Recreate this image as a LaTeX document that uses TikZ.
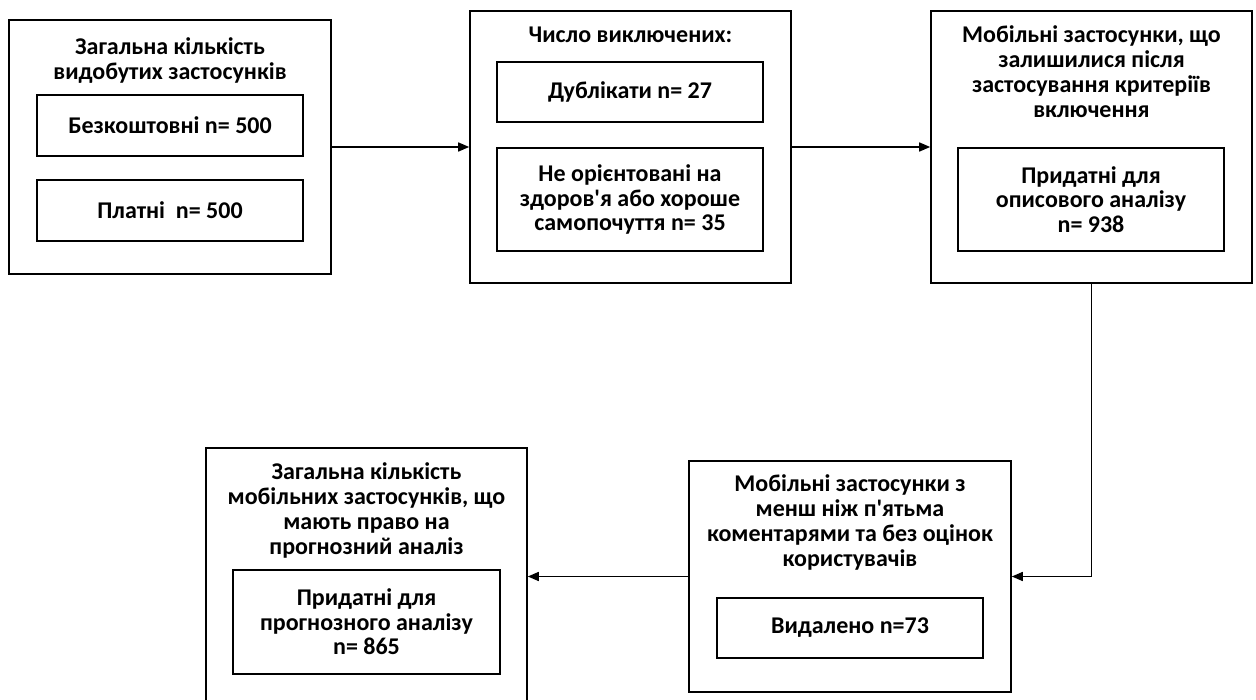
\documentclass[tikz,border=0pt]{standalone}
\usepackage{fontspec}
\setmainfont{Carlito}[Ligatures=TeXOff]
\usetikzlibrary{arrows.meta}
\tikzset{
  outerbox/.style={draw, line width=1.6pt, rectangle, inner sep=0pt},
  innerbox/.style={draw, line width=1.6pt, rectangle, inner sep=0pt, minimum width=266pt, align=center,
    font=\fontsize{24}{24.5}\selectfont\bfseries},
  titletext/.style={align=center, inner sep=0pt, font=\fontsize{24}{25}\selectfont\bfseries},
  conn/.style={line width=1.6pt, -{Triangle[length=11pt,width=9pt]}},
}
\begin{document}
\begin{tikzpicture}[x=1pt, y=-1pt]
\useasboundingbox (0,0) rectangle (1256,700);
\clip (0,0) rectangle (1256,700);
% Box 1
\node[outerbox, minimum width=322pt, minimum height=254pt] (b1) at (170,147) {};
\node[titletext] (t1) at (170,60.5) {Загальна кількість\\видобутих застосунків};
\node[innerbox, minimum height=61pt] (b1a) at (170,125.5) {Безкоштовні n= 500};
\node[innerbox, minimum height=61pt] (b1b) at (170,210.5) {Платні\ \ n= 500};
% Box 2
\node[outerbox, minimum width=321pt, minimum height=272pt] (b2) at (630.5,147) {};
\node[titletext] (t2) at (630.5,35) {Число виключених:};
\node[innerbox, minimum height=60pt] (b2a) at (630,92) {Дублікати n= 27};
\node[innerbox, minimum height=103pt] (b2b) at (630,199.5) {Не орієнтовані на\\здоров'я або хороше\\самопочуття n= 35};
% Box 3
\node[outerbox, minimum width=321pt, minimum height=272pt] (b3) at (1091.5,147) {};
\node[titletext] (t3) at (1091.5,72) {Мобільні застосунки, що\\залишилися після\\застосування критеріїв\\включення};
\node[innerbox, minimum height=103pt] (b3a) at (1091,199.5) {Придатні для\\описового аналізу\\n= 938};
% Box 5
\node[outerbox, minimum width=322pt, minimum height=231pt] (b5) at (850,576.5) {};
\node[titletext] (t5) at (850,522) {Мобільні застосунки з\\менш ніж п'ятьма\\коментарями та без оцінок\\користувачів};
\node[innerbox, minimum height=60pt] (b5a) at (850,628) {Видалено n=73};
% Box 4
\node[outerbox, minimum width=321pt, minimum height=272pt] (b4) at (366.5,584) {};
\node[titletext] (t4) at (366.5,510) {Загальна кількість\\мобільних застосунків, що\\мають право на\\прогнозний аналіз};
\node[innerbox, minimum width=267pt, minimum height=104pt] (b4a) at (366.5,622) {Придатні для\\прогнозного аналізу\\n= 865};
% Connectors
\draw[conn] (b1.east) -- (b2.west);
\draw[conn] (b2.east) -- (b3.west);
\draw[conn] (b3.south) |- (b5.east);
\draw[conn] (b5.west) -- (b5.west -| b4.east);
\end{tikzpicture}
\end{document}
